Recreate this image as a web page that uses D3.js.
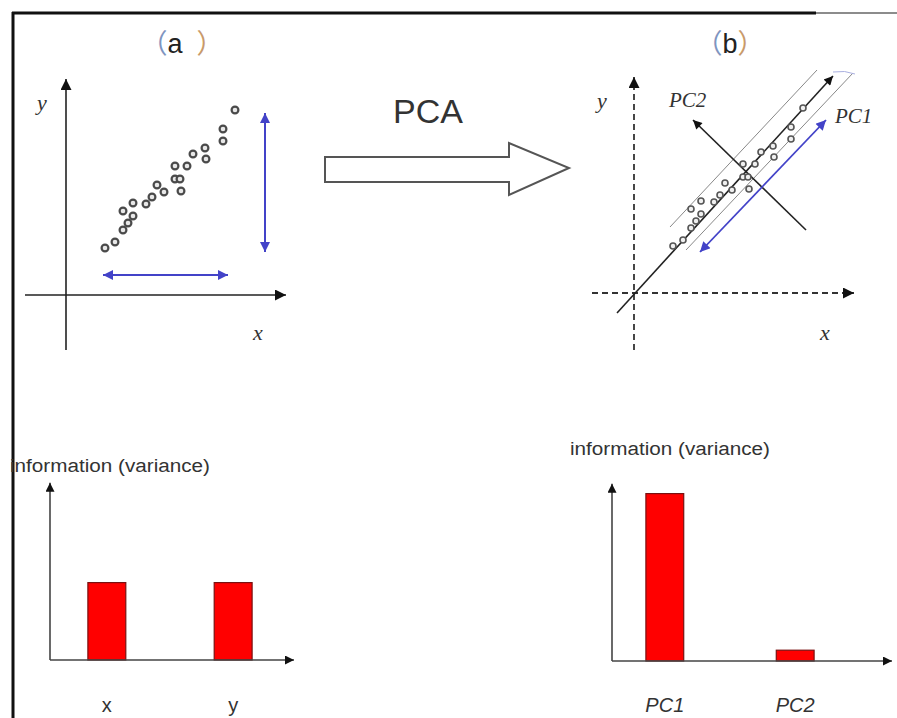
<!DOCTYPE html>
<html>
<head>
<meta charset="utf-8">
<script src="https://cdn.jsdelivr.net/npm/d3@7"></script>
<style>
  body { margin: 0; background: #fff; }
  svg { display: block; }
</style>
</head>
<body>
<div id="chart"></div>
<script>
// sample points (same cloud drawn in both panels), in axis units
const samplePoints = [
  [1.95, 2.35], [2.45, 2.65], [2.85, 3.25], [2.85, 4.2], [3.1, 3.6],
  [3.35, 3.95], [3.35, 4.6], [4.0, 4.55], [4.3, 4.9], [4.55, 5.5],
  [4.9, 5.15], [5.45, 6.45], [6.05, 6.45], [5.45, 5.8], [5.7, 5.8],
  [5.75, 5.2], [6.35, 7.05], [6.95, 7.35], [7.0, 6.8], [7.85, 8.3],
  [7.85, 7.7], [8.45, 9.25]
];

// spread arrows of panel (a)
const spreadX = [[1.85, 1.0], [8.1, 1.0]];
const spreadY = [[9.95, 9.1], [9.95, 2.15]];

// principal axes of panel (b)
const pc1Axis = [[-0.85, -1.0], [9.95, 10.85]];
const pc2Axis = [[8.6, 3.15], [2.95, 8.65]];
const bandUpper = [[1.8, 3.3], [9.15, 11.15]];
const bandLower = [[2.6, 2.15], [10.95, 11.0]];
const pc1Spread = [[3.3, 2.05], [9.6, 8.65]];

// variance bars
const barLabelsA = ["x", "y"];
const barValuesA = [4.3, 4.3];
const barLabelsB = ["PC1", "PC2"];
const barValuesB = [9.3, 0.6];

const width = 897, height = 718;
const svg = d3.select("#chart").append("svg")
  .attr("width", width).attr("height", height);

const defs = svg.append("defs");
function marker(id, color, len, wid) {
  defs.append("marker")
    .attr("id", id)
    .attr("viewBox", "0 0 10 10")
    .attr("refX", 10).attr("refY", 5)
    .attr("markerUnits", "userSpaceOnUse")
    .attr("markerWidth", len).attr("markerHeight", wid)
    .attr("orient", "auto-start-reverse")
    .append("path")
    .attr("d", "M0,0 L10,5 L0,10 Z")
    .attr("fill", color);
}
marker("arr", "#111", 14, 11);
marker("arrSmall", "#111", 12, 9);
marker("arrBlue", "#4343c8", 12, 10);

// frame
svg.append("line").attr("x1", 13).attr("y1", 12).attr("x2", 13).attr("y2", height)
  .attr("stroke", "#111").attr("stroke-width", 3);
svg.append("line").attr("x1", 12).attr("y1", 13).attr("x2", 816).attr("y2", 13)
  .attr("stroke", "#111").attr("stroke-width", 3);
svg.append("line").attr("x1", 816).attr("y1", 13).attr("x2", width).attr("y2", 13)
  .attr("stroke", "#666").attr("stroke-width", 1.5);

const line = (sx, sy) => d3.line().x(d => sx(d[0])).y(d => sy(d[1]));

// ---------- panel (a) ----------
const xA = d3.scaleLinear().domain([0, 10]).range([66, 266]);
const yA = d3.scaleLinear().domain([0, 10]).range([295, 95]);
const gA = svg.append("g");
const lineA = line(xA, yA);

gA.append("path").attr("d", lineA([[0, -2.75], [0, 10.8]]))
  .attr("stroke", "#222").attr("stroke-width", 1.6).attr("fill", "none")
  .attr("marker-end", "url(#arr)");
gA.append("path").attr("d", lineA([[-2.05, 0], [11.0, 0]]))
  .attr("stroke", "#222").attr("stroke-width", 1.6).attr("fill", "none")
  .attr("marker-end", "url(#arr)");

[spreadX, spreadY].forEach(s => {
  gA.append("path").attr("d", lineA(s))
    .attr("stroke", "#4343c8").attr("stroke-width", 2).attr("fill", "none")
    .attr("marker-start", "url(#arrBlue)").attr("marker-end", "url(#arrBlue)");
});

gA.selectAll("circle.pt").data(samplePoints).enter().append("circle")
  .attr("class", "pt")
  .attr("cx", d => xA(d[0])).attr("cy", d => yA(d[1]))
  .attr("r", 3.4)
  .attr("fill", "#e8e8e8").attr("stroke", "#4a4a4a").attr("stroke-width", 2.2);

gA.append("text").attr("x", 37).attr("y", 110)
  .attr("font-family", "Liberation Serif").attr("font-style", "italic")
  .attr("font-size", 22).attr("fill", "#333").text("y");
gA.append("text").attr("x", 253).attr("y", 340)
  .attr("font-family", "Liberation Serif").attr("font-style", "italic")
  .attr("font-size", 22).attr("fill", "#333").text("x");

const titleA = svg.append("text").attr("x", 182).attr("y", 53)
  .attr("text-anchor", "middle").attr("font-family", "Noto Sans CJK SC")
  .attr("font-size", 27);
titleA.append("tspan").attr("fill", "#7f95c0").text("（");
titleA.append("tspan").attr("fill", "#222").attr("font-family", "Liberation Sans").text("a");
titleA.append("tspan").attr("fill", "#c99a6a").attr("dx", 14).text("）");

// ---------- PCA arrow ----------
const gP = svg.append("g");
gP.append("path")
  .attr("d", "M325,157 L509,157 L509,143 L569,168 L509,195 L509,182 L325,182 Z")
  .attr("fill", "#fff").attr("stroke", "#555").attr("stroke-width", 2);
gP.append("text").attr("x", 428).attr("y", 123).attr("text-anchor", "middle")
  .attr("font-family", "Liberation Sans").attr("font-size", 34).attr("fill", "#333")
  .text("PCA");

// ---------- panel (b) ----------
const xB = d3.scaleLinear().domain([0, 10]).range([634, 834]);
const yB = d3.scaleLinear().domain([0, 10]).range([293, 93]);
const gB = svg.append("g");
const lineB = line(xB, yB);

gB.append("path").attr("d", lineB([[0, -2.85], [0, 10.8]]))
  .attr("stroke", "#333").attr("stroke-width", 1.8).attr("fill", "none")
  .attr("stroke-dasharray", "6,4").attr("marker-end", "url(#arr)");
gB.append("path").attr("d", lineB([[-2.1, 0], [11.0, 0]]))
  .attr("stroke", "#333").attr("stroke-width", 1.8).attr("fill", "none")
  .attr("stroke-dasharray", "6,4").attr("marker-end", "url(#arr)");

[bandUpper, bandLower].forEach(s => {
  gB.append("path").attr("d", lineB(s))
    .attr("stroke", "#888").attr("stroke-width", 1).attr("fill", "none");
});
gB.append("path").attr("d", "M833,72 Q845,70 855,74")
  .attr("stroke", "#aab0e0").attr("stroke-width", 1).attr("fill", "none");

gB.append("path").attr("d", lineB(pc1Axis))
  .attr("stroke", "#222").attr("stroke-width", 1.6).attr("fill", "none")
  .attr("marker-end", "url(#arrSmall)");
gB.append("path").attr("d", lineB(pc2Axis))
  .attr("stroke", "#222").attr("stroke-width", 1.6).attr("fill", "none")
  .attr("marker-end", "url(#arrSmall)");
gB.append("path").attr("d", lineB(pc1Spread))
  .attr("stroke", "#4343c8").attr("stroke-width", 1.8).attr("fill", "none")
  .attr("marker-start", "url(#arrBlue)").attr("marker-end", "url(#arrBlue)");

gB.selectAll("circle.pt").data(samplePoints).enter().append("circle")
  .attr("class", "pt")
  .attr("cx", d => xB(d[0])).attr("cy", d => yB(d[1]))
  .attr("r", 3)
  .attr("fill", "#f0f0f0").attr("stroke", "#555").attr("stroke-width", 1.6);

const serif = (g, x, y, t, size) => g.append("text").attr("x", x).attr("y", y)
  .attr("font-family", "Liberation Serif").attr("font-style", "italic")
  .attr("font-size", size).attr("fill", "#333").text(t);
serif(gB, 597, 108, "y", 22);
serif(gB, 820, 340, "x", 22);
serif(gB, 669, 107, "PC2", 21);
serif(gB, 835, 123, "PC1", 21);

const titleB = svg.append("text").attr("x", 730).attr("y", 53)
  .attr("text-anchor", "middle").attr("font-family", "Noto Sans CJK SC")
  .attr("font-size", 27);
titleB.append("tspan").attr("fill", "#7f95c0").text("（");
titleB.append("tspan").attr("fill", "#222").attr("font-family", "Liberation Sans").text("b");
titleB.append("tspan").attr("fill", "#c99a6a").text("）");

// ---------- variance bar charts ----------
function barChart(labels, values, x0, x1, axisEnd, base, pIn, pOut, italic, titleX, titleY) {
  const g = svg.append("g");
  const x = d3.scaleBand().domain(labels).range([x0, x1])
    .paddingInner(pIn).paddingOuter(pOut);
  const y = d3.scaleLinear().domain([0, 10]).range([base, base - 180]);

  g.append("text").attr("x", titleX).attr("y", titleY)
    .attr("font-family", "Liberation Sans").attr("font-size", 18)
    .attr("textLength", 200).attr("lengthAdjust", "spacingAndGlyphs")
    .attr("fill", "#333").text("information (variance)");

  g.selectAll("rect").data(values).enter().append("rect")
    .attr("x", (d, i) => x(labels[i])).attr("width", x.bandwidth())
    .attr("y", d => y(d)).attr("height", d => y(0) - y(d))
    .attr("fill", "#ff0000").attr("stroke", "#7a1010").attr("stroke-width", 1.2);

  g.append("path").attr("d", `M${x0},${y(0)} V${y(9.85)}`)
    .attr("stroke", "#444").attr("stroke-width", 1.6).attr("fill", "none")
    .attr("marker-end", "url(#arrSmall)");
  g.append("path").attr("d", `M${x0},${y(0)} H${axisEnd}`)
    .attr("stroke", "#444").attr("stroke-width", 1.6).attr("fill", "none")
    .attr("marker-end", "url(#arrSmall)");

  g.selectAll("text.lab").data(labels).enter().append("text")
    .attr("class", "lab")
    .attr("x", d => x(d) + x.bandwidth() / 2).attr("y", 712)
    .attr("text-anchor", "middle")
    .attr("font-family", "Liberation Sans").attr("font-size", 20)
    .attr("font-style", italic ? "italic" : "normal")
    .attr("fill", "#333").text(d => d);
}
barChart(barLabelsA, barValuesA, 50, 290, 294, 660, 0.7, 0.3, false, 10, 472);
barChart(barLabelsB, barValuesB, 612, 848, 892, 661, 0.71, 0.26, true, 570, 455);
</script>
</body>
</html>
